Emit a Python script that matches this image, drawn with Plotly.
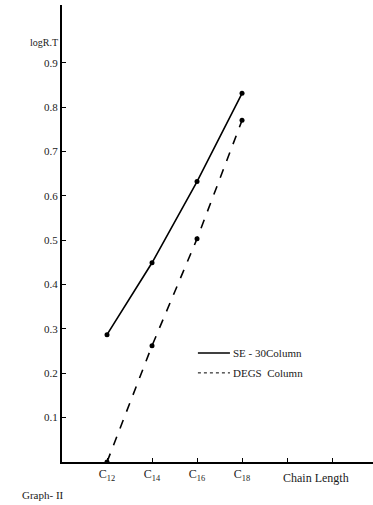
import plotly.graph_objects as go

categories = ["C12", "C14", "C16", "C18"]
cat_pos = [1, 2, 3, 4]
se30 = [0.287, 0.449, 0.632, 0.831]
degs = [0.0, 0.262, 0.503, 0.770]
y_ticks = [0.1, 0.2, 0.3, 0.4, 0.5, 0.6, 0.7, 0.8, 0.9]
y_ticktext = ["0.1", "0.2", "0.3", "0.4", "0.5", "0.6", "0.7", "0.8", "0.9"]
x_ticks = [1, 2, 3, 4, 5, 6]
x_ticktext = ["C<sub>12</sub>", "C<sub>14</sub>", "C<sub>16</sub>", "C<sub>18</sub>", "", ""]

FONT = "Liberation Serif"
TXT = "#1a1a1a"

fig = go.Figure()
fig.add_trace(go.Scatter(x=cat_pos, y=se30, mode="lines+markers",
                         line=dict(color="black", width=1.6),
                         marker=dict(color="black", size=5), name="SE - 30Column"))
fig.add_trace(go.Scatter(x=cat_pos, y=degs, mode="lines+markers",
                         line=dict(color="black", width=1.6, dash="dash"),
                         marker=dict(color="black", size=5), name="DEGS Column"))

fig.update_layout(
    width=373, height=505,
    margin=dict(l=62, r=0, t=5, b=43),
    paper_bgcolor="white", plot_bgcolor="white",
    showlegend=False,
    font=dict(family=FONT, size=11, color=TXT),
    xaxis=dict(range=[0, 6.91], showgrid=False, zeroline=False,
               showline=True, linecolor="black", linewidth=1.6,
               tickmode="array", tickvals=x_ticks, ticktext=x_ticktext,
               ticks="inside", ticklen=4, tickcolor="black",
               tickfont=dict(family=FONT, size=12, color=TXT)),
    yaxis=dict(range=[0, 1.03], showgrid=False, zeroline=False,
               showline=True, linecolor="black", linewidth=2.2,
               tickmode="array", tickvals=y_ticks, ticktext=y_ticktext,
               ticks="inside", ticklen=4, tickcolor="black",
               tickfont=dict(family=FONT, size=11, color=TXT)),
)

# Legend drawn manually (solid / dotted samples)
fig.add_shape(type="line", xref="paper", yref="paper", x0=0.437, x1=0.54, y0=0.2385, y1=0.2385,
              line=dict(color="black", width=1.3))
fig.add_shape(type="line", xref="paper", yref="paper", x0=0.437, x1=0.54, y0=0.195, y1=0.195,
              line=dict(color="black", width=1, dash="dot"))
fig.add_annotation(xref="paper", yref="paper", x=0.542, y=0.2385, text="SE - 30Column",
                   showarrow=False, xanchor="left", yanchor="middle",
                   font=dict(family=FONT, size=11, color=TXT))
fig.add_annotation(xref="paper", yref="paper", x=0.542, y=0.195, text="DEGS  Column",
                   showarrow=False, xanchor="left", yanchor="middle",
                   font=dict(family=FONT, size=11, color=TXT))

fig.add_annotation(xref="x", yref="paper", x=5.65, y=0, yshift=-16, text="Chain Length",
                   showarrow=False, xanchor="center", yanchor="middle",
                   font=dict(family=FONT, size=12, color=TXT))
fig.add_annotation(xref="paper", yref="paper", x=0, y=0.917, xshift=-2, text="logR.T",
                   showarrow=False, xanchor="right", yanchor="middle",
                   font=dict(family=FONT, size=10, color=TXT))
fig.add_annotation(xref="paper", yref="paper", x=0, y=0, xshift=-42, yshift=-33, text="Graph- II",
                   showarrow=False, xanchor="left", yanchor="middle",
                   font=dict(family=FONT, size=11, color=TXT))

fig.write_html("out.html", config={"displayModeBar": False},
               post_script="document.body.style.margin='0';")
